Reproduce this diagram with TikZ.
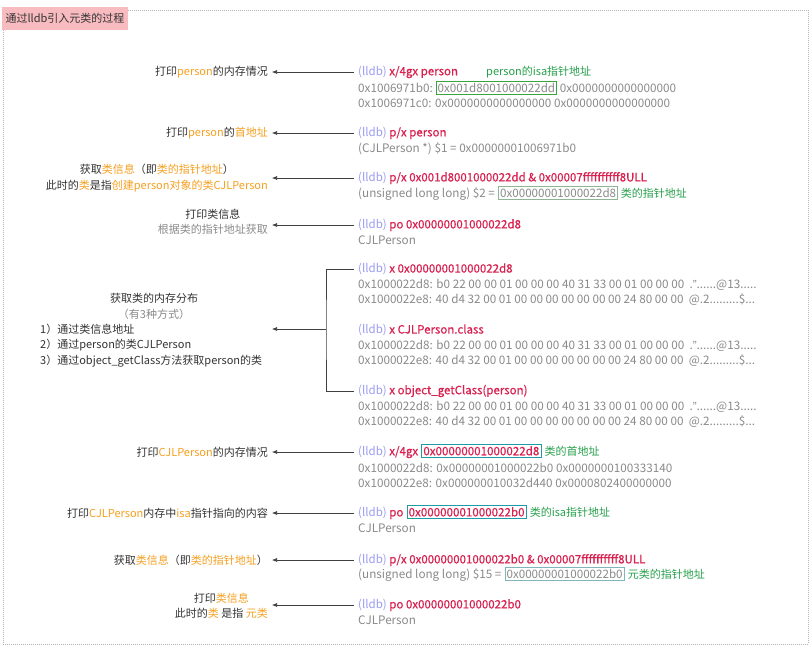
\documentclass[tikz,border=0pt]{standalone}
\usepackage{fontspec}
\setmainfont{Noto Sans CJK SC}
\newfontfamily\semib[FakeBold=0.6]{Noto Sans CJK SC}
\newfontfamily\latf{Liberation Sans}
\usetikzlibrary{arrows.meta,calc}
\definecolor{labc}{HTML}{333333}
\definecolor{orc}{HTML}{F5A020}
\definecolor{lldbc}{HTML}{9C9CF2}
\definecolor{cmdc}{HTML}{D92150}
\definecolor{outc}{HTML}{8A8A8A}
\definecolor{grc}{HTML}{27A04C}
\definecolor{boxg}{HTML}{3BA33B}
\definecolor{boxgg}{HTML}{8DB596}
\definecolor{boxt}{HTML}{1F9BA5}
\definecolor{boxlt}{HTML}{7FB5BB}
\definecolor{pinkc}{HTML}{F8BBC0}
\definecolor{framec}{HTML}{B5B5B5}
\newcommand{\orr}[1]{\textcolor{orc}{#1}}
\newcommand{\lldb}{\textcolor{lldbc}{(lldb)}}
\newcommand{\cmdt}[1]{\textcolor{cmdc}{\semib #1}}
\newcommand{\dq}{{\latf ”}}
\begin{document}
\begin{tikzpicture}[x=1pt,y=-1pt,
  every node/.style={inner sep=0pt,font=\fontsize{11}{15.5}\selectfont},
  lab/.style={anchor=east,align=center,text=labc},
  lst/.style={anchor=west,text=labc},
  cmdl/.style={anchor=west,font=\fontsize{11.5}{15.5}\selectfont},
  outl/.style={anchor=west,text=outc,font=\fontsize{11.7}{15.5}\selectfont},
  outn/.style={anchor=base west,text=outc,font=\fontsize{11.7}{15.5}\selectfont},
  notel/.style={anchor=base west,text=grc},
  hexbox/.style={anchor=base west,draw=#1,line width=0.8pt,inner sep=1.6pt,font=\fontsize{11.6}{15.5}\selectfont},
  arr/.style={draw=black!75,line width=0.6pt,-{Latex[length=5pt,width=4pt]}},
  brk/.style={draw=black!75,line width=0.6pt}]
\useasboundingbox (0,0) rectangle (812,648);
\fill[white] (0,0) rectangle (812,648);
% frame and title
\draw[framec,line width=0.6pt,dash pattern=on 1pt off 1pt] (128,10) -- (808,10) -- (808,644) -- (3,644) -- (3,30);
\fill[pinkc] (2,7) rectangle (128,30);
\node[text=labc] (title) at (65,18.5) {通过lldb引入元类的过程};

% row 1
\node[lab] (l1) at (268,72) {打印\orr{person}的内存情况};
\node[cmdl] (c1) at (358,72) {\lldb\ \cmdt{x/4gx person}};
\node[notel] (a1) at ($(c1.base west)+(128,0)$) {person的isa指针地址};
\node[outl] (o1a) at (358,88) {0x1006971b0:};
\node[hexbox=boxg,text=outc] (b1) at ($(o1a.base east)+(2.5,0)$) {0x001d8001000022dd};
\node[outn] (o1a2) at ($(b1.base east)+(2.5,0)$) {0x0000000000000000};
\node[outl] (o1b) at (358,103) {0x1006971c0: 0x0000000000000000 0x0000000000000000};
\draw[arr] ($(c1.west)+(-4,0)$) -- ($(l1.east)+(4,0)$);

% row 2
\node[lab] (l2) at (268,133) {打印\orr{person}的\orr{首地址}};
\node[cmdl] (c2) at (358,133) {\lldb\ \cmdt{p/x person}};
\node[outl] (o2) at (358,149) {(CJLPerson *) \$1 = 0x00000001006971b0};
\draw[arr] ($(c2.west)+(-4,0)$) -- ($(l2.east)+(4,0)$);

% row 3
\node[lab] (l3) at (268,178) {获取\orr{类信息}（即\orr{类的指针地址}）\\此时的\orr{类}是指\orr{创建person对象的类CJLPerson}};
\node[cmdl] (c3) at (358,178) {\lldb\ \cmdt{p/x 0x001d8001000022dd \& 0x00007ffffffffff8ULL}};
\node[outl] (o3) at (358,194) {(unsigned long long) \$2 =};
\node[hexbox=boxgg,text=outc] (b3) at ($(o3.base east)+(3,0)$) {0x00000001000022d8};
\node[notel] (a3) at ($(b3.base east)+(2.5,0)$) {类的指针地址};
\draw[arr] ($(c3.west)+(-4,0)$) -- ($(l3.east |- c3.west)+(4,0)$);

% row 4
\node[lab] (l4) at (268,222) {打印类信息\\\textcolor{outc}{根据类的指针地址获取}};
\node[cmdl] (c4) at (358,225) {\lldb\ \cmdt{po 0x00000001000022d8}};
\node[outl] (o4) at (358,240) {CJLPerson};
\draw[arr] ($(c4.west)+(-4,0)$) -- ($(l4.east |- c4.west)+(4,0)$);

% row 5
\node[text=labc] (l5t) at (154,298) {获取类的内存分布};
\node[text=outc] (l5s) at (154,314) {（有3种方式）};
\node[lst] (l5a) at (40,329) {1）通过类信息地址};
\node[lst] (l5b) at (40,345) {2）通过person的类CJLPerson};
\node[lst] (l5c) at (40,361) {3）通过object\_getClass方法获取person的类};
\node[cmdl] (c5a) at (358,269) {\lldb\ \cmdt{x 0x00000001000022d8}};
\node[outl] (o5a1) at (358,285) {0x1000022d8: b0 22 00 00 01 00 00 00 40 31 33 00 01 00 00 00\ \ .\dq......@13.....};
\node[outl] (o5a2) at (358,300) {0x1000022e8: 40 d4 32 00 01 00 00 00 00 00 00 00 24 80 00 00\ \ @.2.........\$...};
\node[cmdl] (c5b) at (358,330) {\lldb\ \cmdt{x CJLPerson.class}};
\node[outl] (o5b1) at (358,346) {0x1000022d8: b0 22 00 00 01 00 00 00 40 31 33 00 01 00 00 00\ \ .\dq......@13.....};
\node[outl] (o5b2) at (358,361) {0x1000022e8: 40 d4 32 00 01 00 00 00 00 00 00 00 24 80 00 00\ \ @.2.........\$...};
\node[cmdl] (c5c) at (358,391) {\lldb\ \cmdt{x object\_getClass(person)}};
\node[outl] (o5c1) at (358,407) {0x1000022d8: b0 22 00 00 01 00 00 00 40 31 33 00 01 00 00 00\ \ .\dq......@13.....};
\node[outl] (o5c2) at (358,422) {0x1000022e8: 40 d4 32 00 01 00 00 00 00 00 00 00 24 80 00 00\ \ @.2.........\$...};
\coordinate (bx) at (326,329);
\draw[brk] ($(c5a.west)+(-4,0)$) -| (bx) |- ($(c5c.west)+(-4,0)$);
\draw[arr] (bx) -- ($(bx -| l1.east)+(4,0)$);

% row 6
\node[lab] (l6) at (268,452) {打印\orr{CJLPerson}的内存情况};
\node[cmdl] (c6) at (358,452) {\lldb\ \cmdt{x/4gx}};
\node[hexbox=boxt] (b6) at ($(c6.base east)+(3,0)$) {\cmdt{0x00000001000022d8}};
\node[notel] (a6) at ($(b6.base east)+(3,0)$) {类的首地址};
\node[outl] (o6a) at (358,468) {0x1000022d8: 0x00000001000022b0 0x0000000100333140};
\node[outl] (o6b) at (358,483) {0x1000022e8: 0x000000010032d440 0x0000802400000000};
\draw[arr] ($(c6.west)+(-4,0)$) -- ($(l6.east)+(4,0)$);

% row 7
\node[lab] (l7) at (268,513) {打印\orr{CJLPerson}内存中\orr{isa}指针指向的内容};
\node[cmdl] (c7) at (358,513) {\lldb\ \cmdt{po}};
\node[hexbox=boxt] (b7) at ($(c7.base east)+(3,0)$) {\cmdt{0x00000001000022b0}};
\node[notel] (a7) at ($(b7.base east)+(3,0)$) {类的isa指针地址};
\node[outl] (o7) at (358,528) {CJLPerson};
\draw[arr] ($(c7.west)+(-4,0)$) -- ($(l7.east)+(4,0)$);

% row 8
\node[lab] (l8) at (268,560) {获取\orr{类信息}（即\orr{类的指针地址}）};
\node[cmdl] (c8) at (358,560) {\lldb\ \cmdt{p/x 0x00000001000022b0 \& 0x00007ffffffffff8ULL}};
\node[outl] (o8) at (358,575) {(unsigned long long) \$15 =};
\node[hexbox=boxlt,text=outc] (b8) at ($(o8.base east)+(3,0)$) {0x00000001000022b0\ };
\node[notel] (a8) at ($(b8.base east)+(3,0)$) {元类的指针地址};
\draw[arr] ($(c8.west)+(-4,0)$) -- ($(l8.east)+(4,0)$);

% row 9
\node[lab] (l9) at (268,606) {打印\orr{类信息}\\此时的\orr{类} 是指 \orr{元类}};
\node[cmdl] (c9) at (358,605) {\lldb\ \cmdt{po 0x00000001000022b0}};
\node[outl] (o9) at (358,620) {CJLPerson};
\draw[arr] ($(c9.west)+(-4,0)$) -- ($(l9.east |- c9.west)+(4,0)$);
\end{tikzpicture}
\end{document}
